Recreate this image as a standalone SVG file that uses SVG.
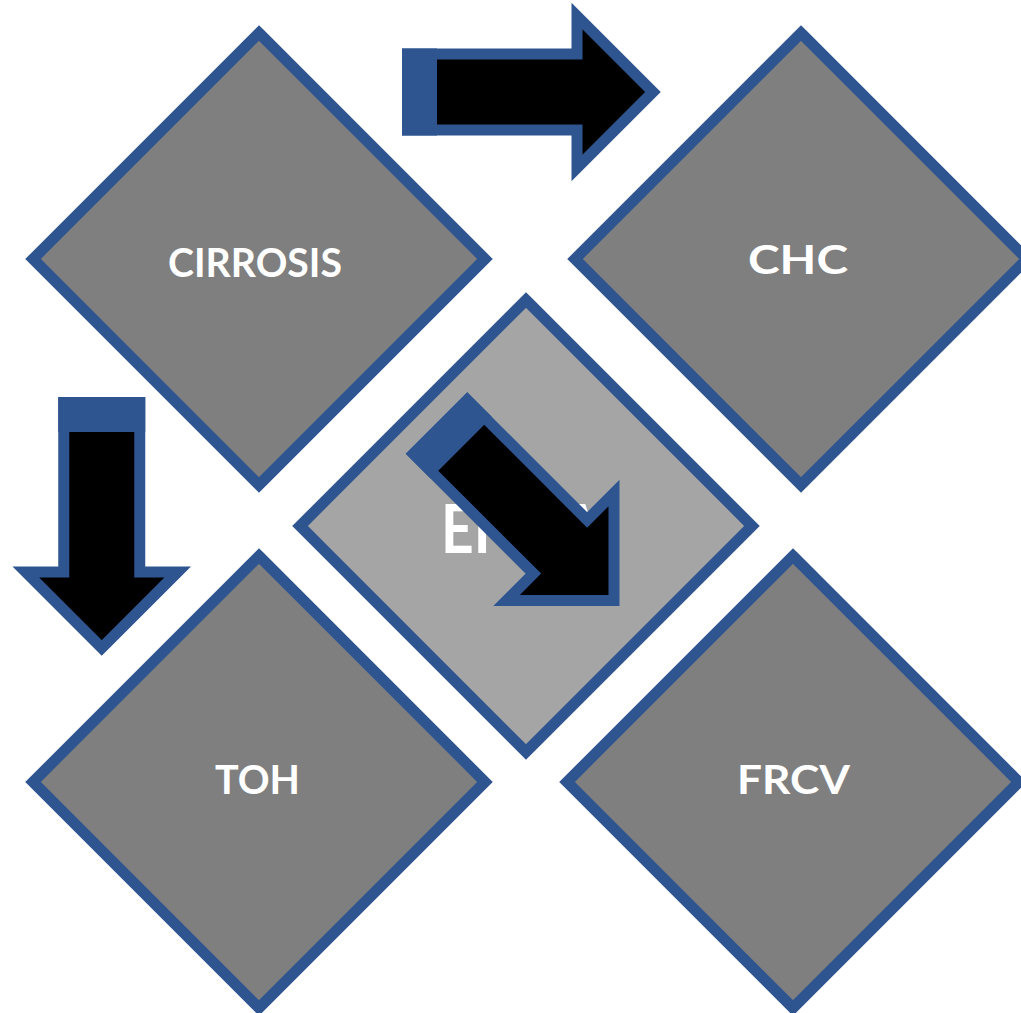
<svg xmlns="http://www.w3.org/2000/svg" width="1021" height="1013" viewBox="0 0 1021 1013">
  <style>
    .dia { fill: #7F7F7F; stroke: #2F5590; stroke-width: 11; stroke-linejoin: miter; }
    .dia.center { fill: #A5A5A5; }
    .lbl { font-family: "Lato", "Liberation Sans", sans-serif; font-weight: bold; font-size: 40px; fill: #FFFFFF; text-anchor: middle; }
    .big { font-size: 67px; text-anchor: start; }
    .arr { fill: #000000; stroke: #2F5590; stroke-width: 11; stroke-linejoin: miter; }
    .tail { fill: #2F5590; }
  </style>
  <defs>
    <g id="arrow">
      <polygon class="arr" points="0,-38 169.5,-38 169.5,-76 245.5,0 169.5,76 169.5,38 0,38"/>
      <rect class="tail" x="-5.5" y="-43.5" width="35" height="87"/>
    </g>
  </defs>
  <rect width="1021" height="1013" fill="#FFFFFF"/>
  <g id="node-cirrosis">
    <polygon class="dia" points="259,33 485,259 259,485 33,259"/>
    <text class="lbl" x="255" y="277" textLength="174" lengthAdjust="spacingAndGlyphs">CIRROSIS</text>
  </g>
  <g id="node-chc">
    <polygon class="dia" points="801,33 1027,259 801,485 575,259"/>
    <text class="lbl" x="798" y="274" textLength="100" lengthAdjust="spacingAndGlyphs">CHC</text>
  </g>
  <g id="node-toh">
    <polygon class="dia" points="259,556 485,782 259,1008 33,782"/>
    <text class="lbl" x="257.5" y="794" textLength="85" lengthAdjust="spacingAndGlyphs">TOH</text>
  </g>
  <g id="node-frcv">
    <polygon class="dia" points="793,556 1019,782 793,1008 567,782"/>
    <text class="lbl" x="793.5" y="794" textLength="113" lengthAdjust="spacingAndGlyphs">FRCV</text>
  </g>
  <g id="node-ehna">
    <polygon class="dia center" points="526,300 752,526 526,752 300,526"/>
    <text class="lbl big" x="441" y="553" textLength="160" lengthAdjust="spacingAndGlyphs">EHNA</text>
  </g>
  <g id="connectors">
    <use href="#arrow" transform="translate(407.5,92)"/>
    <use href="#arrow" transform="translate(101.75,402.5) rotate(90)"/>
    <use href="#arrow" transform="translate(440.4,426.9) rotate(45)"/>
  </g>
</svg>
